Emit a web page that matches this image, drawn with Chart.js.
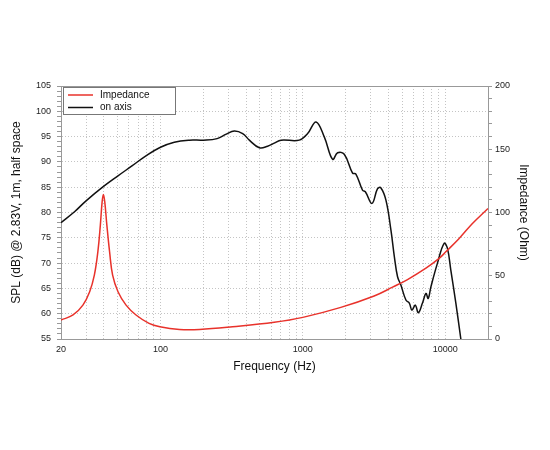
<!DOCTYPE html>
<html>
<head>
<meta charset="utf-8">
<script src="https://cdn.jsdelivr.net/npm/chart.js@4"></script>
<style>
  html, body { margin: 0; padding: 0; background: #fff; }
  #wrap { width: 550px; height: 450px; position: relative; }
</style>
</head>
<body>
<div id="wrap"><canvas id="spl-chart"></canvas></div>
<script>
// on axis SPL (dB)
const splFreq = [20, 25, 30, 40, 50, 63, 80, 100, 125, 160, 200, 250, 290, 330, 378, 421, 495, 566, 630, 703, 944, 1081, 1239, 1417, 1619, 1755, 1955, 2236, 2360, 2628, 2750, 3060, 3350, 3530, 3840, 4160, 4400, 4630, 4880, 5300, 5600, 5840, 6170, 6480, 6930, 7330, 7600, 7940, 8830, 9840, 10380, 10960, 11890, 12890];
const splValues = [78.0, 80.2, 82.3, 85.2, 87.2, 89.2, 91.3, 92.9, 93.9, 94.3, 94.3, 94.6, 95.5, 96.1, 95.6, 94.3, 92.8, 93.1, 93.7, 94.3, 94.3, 95.6, 97.9, 94.9, 90.5, 91.8, 91.5, 87.8, 87.6, 84.4, 84.1, 81.8, 84.7, 84.9, 82.4, 76.5, 71.2, 67.3, 65.7, 62.7, 62.1, 60.7, 61.7, 60.2, 62.1, 64.0, 63.0, 65.3, 70.0, 73.9, 72.9, 68.6, 62.1, 55.0];

// impedance (Ohm)
const impFreq = [20, 24.3, 28.5, 31.8, 34.3, 36.3, 37.8, 38.9, 39.7, 40.6, 42, 43.9, 46.1, 50.3, 57.3, 67.3, 83.1, 99, 136, 188, 321, 630, 1000, 1850, 3170, 4270, 5440, 7330, 9070, 10110, 12540, 15550, 20000];
const impValues = [15.0, 19.0, 26.8, 37.4, 50.5, 68.9, 90, 108.4, 114.2, 108.4, 90, 68.9, 50.5, 37.4, 26.8, 19.0, 12.4, 9.7, 7.6, 7.6, 9.7, 13.2, 17.1, 25.0, 34.0, 41.0, 47.0, 56.0, 63.7, 68.9, 79.5, 91.3, 103.2];

const gridFreqs = [20, 30, 40, 50, 60, 70, 80, 90, 100, 200, 300, 400, 500, 600, 700, 800, 900, 1000, 2000, 3000, 4000, 5000, 6000, 7000, 8000, 9000, 10000, 20000];
const labelFreqs = [20, 100, 1000, 10000];

const FONT = "'Liberation Sans', Arial, Helvetica, sans-serif";

// legend drawn inside the plot, top-left, with a box
const insideLegend = {
  id: "insideLegend",
  afterDraw(chart) {
    const { ctx, chartArea } = chart;
    const x = chartArea.left + 2;
    const y = chartArea.top + 1;
    ctx.save();
    ctx.fillStyle = "#fff";
    ctx.fillRect(x, y, 112, 27);
    ctx.strokeStyle = "#777";
    ctx.lineWidth = 1;
    ctx.strokeRect(x + 0.5, y + 0.5, 112, 27);
    ctx.font = "10px " + FONT;
    ctx.textBaseline = "middle";
    chart.data.datasets.forEach((ds, i) => {
      const ly = y + 8 + i * 12.5;
      ctx.strokeStyle = ds.borderColor;
      ctx.lineWidth = 1.5;
      ctx.beginPath();
      ctx.moveTo(x + 5, ly);
      ctx.lineTo(x + 30, ly);
      ctx.stroke();
      ctx.fillStyle = "#111";
      ctx.fillText(ds.label, x + 37, ly);
    });
    // top frame line
    ctx.strokeStyle = "#999";
    ctx.lineWidth = 1;
    ctx.beginPath();
    ctx.moveTo(chartArea.left, chartArea.top + 0.5);
    ctx.lineTo(chartArea.right, chartArea.top + 0.5);
    ctx.stroke();
    ctx.restore();
  },
};

const ctx = document.querySelector("#spl-chart").getContext("2d");

new Chart(ctx, {
  type: "line",
  data: {
    datasets: [
      {
        label: "Impedance",
        data: impFreq.map((f, i) => ({ x: f, y: impValues[i] })),
        yAxisID: "yImp",
        borderColor: "#e8322b",
        borderWidth: 1.5,
        pointRadius: 0,
        tension: 0.4,
        fill: false,
      },
      {
        label: "on axis",
        data: splFreq.map((f, i) => ({ x: f, y: splValues[i] })),
        yAxisID: "ySpl",
        borderColor: "#111111",
        borderWidth: 1.5,
        pointRadius: 0,
        tension: 0.4,
        fill: false,
      },
    ],
  },
  options: {
    responsive: true,
    maintainAspectRatio: false,
    animation: false,
    layout: { padding: { top: 86, bottom: 75, left: 0, right: 0 } },
    plugins: {
      legend: { display: false },
      tooltip: { enabled: false },
    },
    scales: {
      x: {
        type: "logarithmic",
        min: 20,
        max: 20000,
        afterBuildTicks: (scale) => {
          scale.ticks = gridFreqs.map((v) => ({ value: v }));
        },
        afterFit: (scale) => { scale.height = 36; },
        ticks: {
          autoSkip: false,
          maxRotation: 0,
          padding: 5,
          color: "#222",
          font: { family: FONT, size: 9 },
          callback: (v) => (labelFreqs.includes(v) ? String(v) : ""),
        },
        grid: { color: "#c4c4c4", drawTicks: false },
        border: { color: "#999", dash: [1, 2] },
        title: {
          display: true,
          text: "Frequency (Hz)",
          color: "#111",
          font: { family: FONT, size: 12 },
          padding: { top: 0, bottom: 1 },
        },
      },
      ySpl: {
        type: "linear",
        position: "left",
        min: 55,
        max: 105,
        afterFit: (scale) => { scale.width = 61; },
        ticks: {
          stepSize: 1,
          autoSkip: false,
          padding: 6,
          color: "#222",
          font: { family: FONT, size: 9 },
          callback: (v) => (v % 5 === 0 ? String(v) : ""),
        },
        grid: {
          color: (c) => (c.tick && c.tick.value % 5 === 0 ? "#c4c4c4" : "rgba(0,0,0,0)"),
          tickColor: "#999",
          tickLength: 4,
        },
        border: { color: "#999", dash: [1, 2] },
        title: {
          display: true,
          text: "SPL (dB) @ 2.83V, 1m, half space",
          color: "#111",
          font: { family: FONT, size: 12 },
          padding: { top: 9, bottom: 0 },
        },
      },
      yImp: {
        type: "linear",
        position: "right",
        min: 0,
        max: 200,
        afterFit: (scale) => { scale.width = 62; },
        ticks: {
          stepSize: 10,
          autoSkip: false,
          padding: 3,
          color: "#222",
          font: { family: FONT, size: 9 },
          callback: (v) => (v % 50 === 0 ? String(v) : ""),
        },
        grid: {
          drawOnChartArea: false,
          tickColor: "#999",
          tickLength: 4,
        },
        border: { color: "#999" },
        title: {
          display: true,
          text: "Impedance (Ohm)",
          color: "#111",
          font: { family: FONT, size: 12 },
          padding: { top: 19, bottom: 0 },
        },
      },
    },
  },
  plugins: [insideLegend],
});
</script>
</body>
</html>
